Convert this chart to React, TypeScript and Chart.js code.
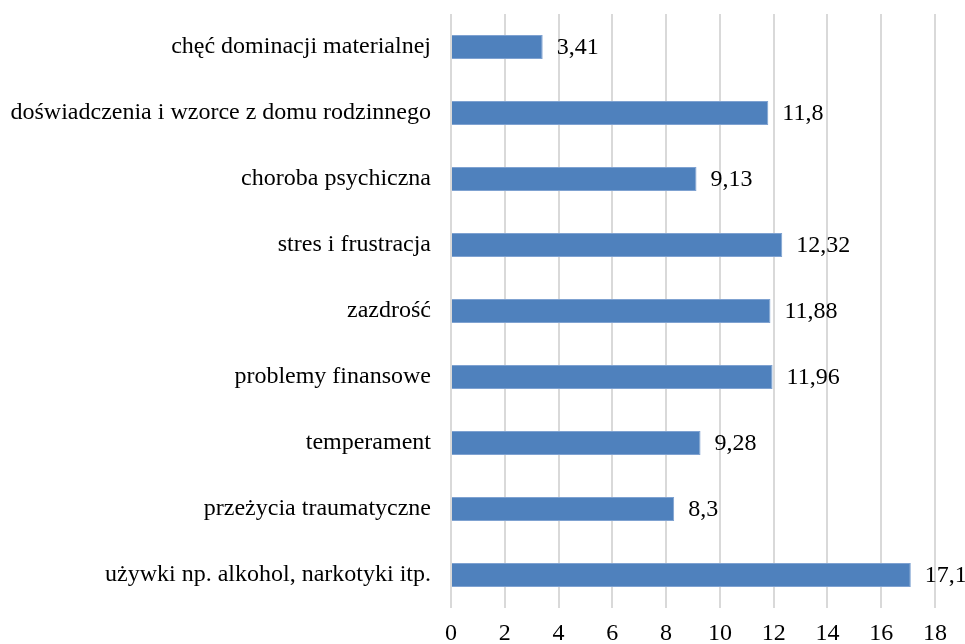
import React, { useEffect, useRef } from "react";
import { Chart, registerables } from "chart.js";

Chart.register(...registerables);

const categories: string[] = [
  "chęć dominacji materialnej",
  "doświadczenia i wzorce z domu rodzinnego",
  "choroba psychiczna",
  "stres i frustracja",
  "zazdrość",
  "problemy finansowe",
  "temperament",
  "przeżycia traumatyczne",
  "używki np. alkohol, narkotyki itp.",
];

const values: number[] = [3.41, 11.8, 9.13, 12.32, 11.88, 11.96, 9.28, 8.3, 17.1];

const axisMin = 0;
const axisMax = 18;
const axisStep = 2;

const FONT = "'Liberation Serif', 'Times New Roman', serif";

const valueLabels = {
  id: "valueLabels",
  afterDatasetsDraw(chart: any) {
    const ctx = chart.ctx;
    const meta = chart.getDatasetMeta(0);
    ctx.save();
    ctx.font = `24px ${FONT}`;
    ctx.fillStyle = "#000";
    ctx.textAlign = "left";
    ctx.textBaseline = "middle";
    meta.data.forEach((bar: any, i: number) => {
      const v = chart.data.datasets[0].data[i] as number;
      ctx.fillText(String(v).replace(".", ","), bar.x + 14, bar.y + 1);
    });
    ctx.restore();
  },
};

export default function App() {
  const ref = useRef<HTMLCanvasElement | null>(null);

  useEffect(() => {
    document.body.style.margin = "0";
    const canvas = ref.current;
    if (!canvas) return;
    const chart = new Chart(canvas, {
      type: "bar",
      data: {
        labels: categories,
        datasets: [
          {
            data: values,
            backgroundColor: "#4f81bd",
            borderColor: "#7fa2d1",
            borderWidth: 1,
            barPercentage: 0.36,
            categoryPercentage: 1,
          },
        ],
      },
      options: {
        indexAxis: "y",
        animation: false,
        responsive: false,
        maintainAspectRatio: false,
        devicePixelRatio: 1,
        layout: { padding: { top: 14, right: 30, left: 0, bottom: 0 } },
        plugins: {
          legend: { display: false },
          tooltip: { enabled: false },
        },
        scales: {
          x: {
            min: axisMin,
            max: axisMax,
            ticks: {
              stepSize: axisStep,
              color: "#000",
              font: { family: FONT, size: 24 },
              padding: 11,
              maxRotation: 0,
            },
            grid: {
              color: "#d9d9d9",
              lineWidth: 2,
              drawTicks: false,
            },
            border: { display: false },
            afterFit(scale: any) {
              scale.height = 36;
              scale.paddingLeft = 0;
              scale.paddingRight = 0;
            },
          },
          y: {
            ticks: {
              color: "#000",
              font: { family: FONT, size: 24 },
              padding: 20,
              autoSkip: false,
            },
            grid: { display: false, drawTicks: false },
            border: { display: false },
            afterFit(scale: any) {
              scale.width = 451;
              scale.paddingTop = 0;
              scale.paddingBottom = 0;
            },
          },
        },
      },
      plugins: [valueLabels],
    });
    return () => chart.destroy();
  }, []);

  return (
    <div style={{ width: 965, height: 644 }}>
      <canvas ref={ref} width={965} height={644} style={{ display: "block" }} />
    </div>
  );
}
